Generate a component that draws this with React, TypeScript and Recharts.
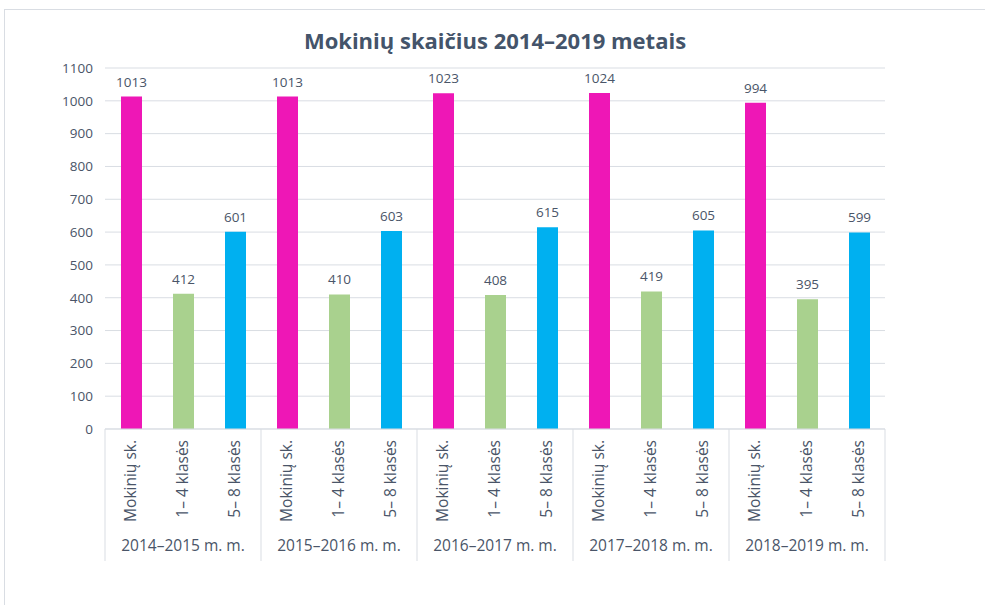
import React from "react";
import { BarChart, Bar, XAxis, YAxis, CartesianGrid, Cell, LabelList } from "recharts";

const years = ["2014–2015 m. m.", "2015–2016 m. m.", "2016–2017 m. m.", "2017–2018 m. m.", "2018–2019 m. m."];
const kinds = ["Mokinių sk.", "1– 4 klasės", "5– 8 klasės"];
const totals = [1013, 1013, 1023, 1024, 994];
const grades1to4 = [412, 410, 408, 419, 395];
const grades5to8 = [601, 603, 615, 605, 599];
const yTicks = [0, 100, 200, 300, 400, 500, 600, 700, 800, 900, 1000, 1100];
const colors = ["#ee17b6", "#a9d18e", "#00b0f0"];

const data = years.flatMap((g, i) => [
  { group: g, kind: kinds[0], value: totals[i], c: 0 },
  { group: g, kind: kinds[1], value: grades1to4[i], c: 1 },
  { group: g, kind: kinds[2], value: grades5to8[i], c: 2 },
]);

const FONT = "'Open Sans', sans-serif";
const TEXT = "#4a5568";
const LINE = "#d9dde3";
const W = 985, H = 605;
const M = { top: 68, right: 100, left: 55, bottom: 40 };
const band = (W - M.left - 50 - M.right) / data.length;

const KindTick = (props: any) => {
  const { x, y, payload, index } = props;
  const half = payload?.offset ?? band / 2;
  const i = index ?? payload.index;
  return (
    <g>
      {i % 3 === 0 && <line x1={x - half} x2={x - half} y1={y - 8} y2={y + 124} stroke={LINE} />}
      {i === data.length - 1 && <line x1={x + half} x2={x + half} y1={y - 8} y2={y + 124} stroke={LINE} />}
      <text x={x} y={y + 3} transform={`rotate(-90 ${x} ${y + 3})`} textAnchor="end" dy="0.35em"
        fill={TEXT} fontSize={15.5} fontFamily={FONT}>{payload.value}</text>
    </g>
  );
};

const GroupTick = (props: any) => {
  const { x, y, payload, index } = props;
  const i = index ?? payload.index;
  if (i % 3 !== 1) return null;
  return (
    <text x={x} y={y + 14} textAnchor="middle" fill={TEXT} fontSize={15.5} fontFamily={FONT}>
      {payload.value}
    </text>
  );
};

export default function App() {
  return (
    <div style={{ position: "fixed", left: 0, top: 0, width: W, height: H, background: "#fff" }}>
      <div style={{ position: "absolute", left: 4, top: 9, width: W, height: H, border: `1px solid ${LINE}` }} />
      <div style={{ position: "absolute", left: 0, top: 25, width: 990, textAlign: "center",
        fontFamily: FONT, fontWeight: 700, fontSize: 22, color: "#44546a" }}>
        Mokinių skaičius 2014–2019 metais
      </div>
      <div style={{ position: "absolute", left: 0, top: 0 }}>
        <BarChart width={W} height={H} data={data} margin={M} barSize={21}>
          <CartesianGrid vertical={false} stroke={LINE} />
          <YAxis domain={[0, 1100]} ticks={yTicks} axisLine={false} tickLine={false} width={50}
            tick={{ fill: TEXT, fontSize: 13.5, fontFamily: FONT }} tickMargin={6} />
          <XAxis dataKey="kind" interval={0} height={100} axisLine={{ stroke: LINE }} tickLine={false}
            tick={<KindTick />} />
          <XAxis xAxisId="g" dataKey="group" interval={0} height={36} axisLine={false} tickLine={false}
            allowDuplicatedCategory tick={<GroupTick />} />
          <Bar dataKey="value" isAnimationActive={false}>
            {data.map((d, i) => <Cell key={i} fill={colors[d.c]} />)}
            <LabelList dataKey="value" position="top" offset={10} fill={TEXT} fontSize={13.5} fontFamily={FONT} />
          </Bar>
        </BarChart>
      </div>
    </div>
  );
}
